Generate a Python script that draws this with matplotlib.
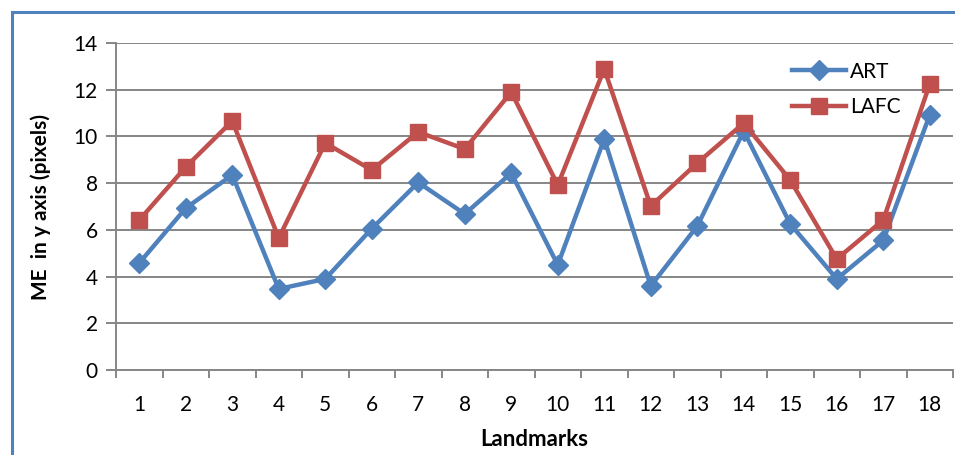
import matplotlib
matplotlib.use("Agg")
import matplotlib.pyplot as plt
from matplotlib.patches import Rectangle

plt.rcParams["font.family"] = ["Lato", "DejaVu Sans"]

# mean error per landmark
landmarks = list(range(1, 19))
art = [4.58, 6.93, 8.35, 3.47, 3.90, 6.05, 8.03, 6.68, 8.43, 4.50,
       9.89, 3.60, 6.16, 10.23, 6.25, 3.90, 5.55, 10.92]
lafc = [6.42, 8.69, 10.66, 5.65, 9.72, 8.56, 10.19, 9.46, 11.90, 7.92,
        12.89, 7.02, 8.86, 10.57, 8.13, 4.75, 6.42, 12.24]

BLUE = "#4F81BD"; RED = "#C0504D"; GRID = "#868686"

fig = plt.figure(figsize=(9.55, 4.55), dpi=100)
ax = fig.add_axes([116/955, 1-370/455, (953-116)/955, (370-43)/455])

# chart frame (blue border, left and top)
fig.add_artist(Rectangle((12/955, -0.1), 1.2, 1-12/455+0.1, transform=fig.transFigure,
                         fill=False, edgecolor=BLUE, lw=2.2))

ax.plot(landmarks, art, color=BLUE, lw=3.2, marker="D", ms=10.5, label="ART", zorder=3)
ax.plot(landmarks, lafc, color=RED, lw=3.2, marker="s", ms=12, label="LAFC", zorder=3)

ax.set_xlim(0.5, 18.5)
ax.set_ylim(0, 14)
ax.set_yticks(range(0, 15, 2))
ax.set_xticks(landmarks)
ax.set_xticks([i + 0.5 for i in range(0, 19)], minor=True)
ax.yaxis.grid(True, color=GRID, lw=1.4)
ax.set_axisbelow(True)
for s in ["top", "right"]:
    ax.spines[s].set_visible(False)
for s in ["left", "bottom"]:
    ax.spines[s].set_color(GRID)
    ax.spines[s].set_linewidth(1.4)
ax.tick_params(axis="y", length=7, width=1.4, color=GRID, labelsize=15, pad=6)
ax.tick_params(axis="x", which="major", length=0, labelsize=15, pad=18)
ax.tick_params(axis="x", which="minor", length=6, width=1.4, color=GRID)

ax.set_xlabel("Landmarks", fontsize=16, fontweight="bold", labelpad=10)
ax.set_ylabel("ME  in y axis (pixels)", fontsize=15, fontweight="bold", labelpad=16)

ax.legend(loc="upper left", bbox_to_anchor=(0.785, 1.0), frameon=False, fontsize=15,
          handlelength=2.6, labelspacing=0.75, handletextpad=0.2)

fig.savefig("out.png", dpi=100)
